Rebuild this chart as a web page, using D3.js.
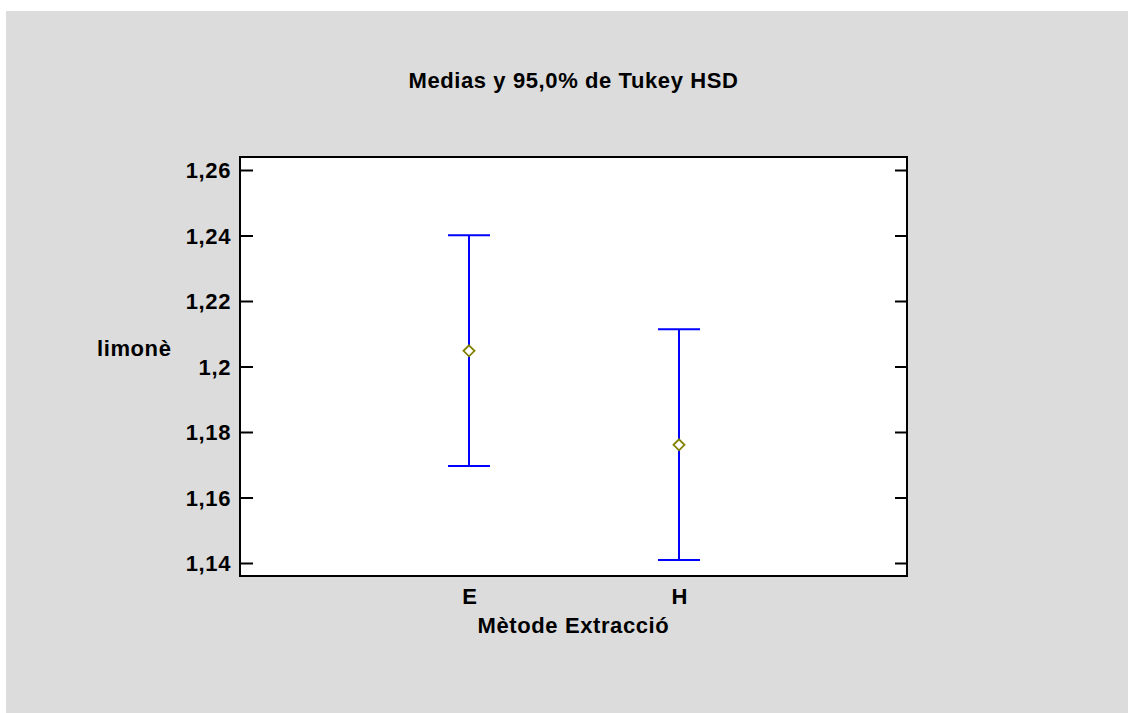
<!DOCTYPE html>
<html>
<head>
<meta charset="utf-8">
<script src="https://cdn.jsdelivr.net/npm/d3@7"></script>
<style>
  html, body { margin: 0; padding: 0; background: #ffffff; }
  svg { display: block; }
  text { font-family: "Liberation Sans", Arial, sans-serif; font-weight: bold; fill: #000; }
</style>
</head>
<body>
<svg id="chart" width="1128" height="713"></svg>
<script>
// ---- data ----
const categories = ["E", "H"];
const means = [1.2048, 1.1761];
const lowerLimits = [1.1696, 1.1409];
const upperLimits = [1.2401, 1.2114];
const yTickValues = [1.14, 1.16, 1.18, 1.20, 1.22, 1.24, 1.26];
const yTickLabels = ["1,14", "1,16", "1,18", "1,2", "1,22", "1,24", "1,26"];
const titleText = "Medias y 95,0% de Tukey HSD";
const xAxisTitle = "Mètode Extracció";
const yAxisTitle = "limonè";

// ---- layout ----
const W = 1128, H = 713;
const plot = { left: 240, right: 907, top: 157, bottom: 576 };
const svg = d3.select("#chart");

svg.append("rect").attr("x", 6).attr("y", 11).attr("width", W - 6).attr("height", H - 11)
  .attr("fill", "#dcdcdc");

svg.append("rect").attr("x", plot.left).attr("y", plot.top)
  .attr("width", plot.right - plot.left).attr("height", plot.bottom - plot.top)
  .attr("fill", "#ffffff");

const y = d3.scaleLinear().domain([1.13603, 1.26397]).range([plot.bottom, plot.top]);
const x = d3.scaleLinear().domain([-1.0905, 2.0857]).range([plot.left, plot.right]);

// left axis
const yLeft = d3.axisLeft(y).tickValues(yTickValues).tickSize(-13).tickPadding(9)
  .tickFormat((d, i) => yTickLabels[i]);
const gl = svg.append("g").attr("transform", `translate(${plot.left},0)`).call(yLeft);
gl.select(".domain").remove();
gl.selectAll(".tick line").attr("stroke", "#000").attr("stroke-width", 2);
gl.selectAll(".tick text").attr("font-size", 22).style("letter-spacing", "0.6px")
  .attr("font-family", "Liberation Sans, Arial, sans-serif").attr("font-weight", "bold")
  .attr("fill", "#000").attr("dy", "0.36em");

// right axis (ticks only)
const yRight = d3.axisRight(y).tickValues(yTickValues).tickSize(-12).tickFormat("");
const gr = svg.append("g").attr("transform", `translate(${plot.right},0)`).call(yRight);
gr.select(".domain").remove();
gr.selectAll(".tick line").attr("stroke", "#000").attr("stroke-width", 2);

// x axis labels
const xAxis = d3.axisBottom(x).tickValues(categories.map((c, i) => i)).tickSize(0).tickPadding(12)
  .tickFormat((d) => categories[d]);
const gx = svg.append("g").attr("transform", `translate(0,${plot.bottom})`).call(xAxis);
gx.select(".domain").remove();
gx.selectAll(".tick text").attr("font-size", 22).attr("font-family", "Liberation Sans, Arial, sans-serif")
  .attr("font-weight", "bold").attr("fill", "#000");

// frame
svg.append("rect").attr("x", plot.left).attr("y", plot.top)
  .attr("width", plot.right - plot.left).attr("height", plot.bottom - plot.top)
  .attr("fill", "none").attr("stroke", "#000").attr("stroke-width", 2);

// error bars
const capHalf = 21;
const bars = svg.append("g");
categories.forEach((c, i) => {
  const cx = x(i);
  bars.append("line").attr("x1", cx).attr("x2", cx)
    .attr("y1", y(lowerLimits[i])).attr("y2", y(upperLimits[i]))
    .attr("stroke", "#0000ff").attr("stroke-width", 2);
  [lowerLimits[i], upperLimits[i]].forEach(v => {
    bars.append("line").attr("x1", cx - capHalf).attr("x2", cx + capHalf)
      .attr("y1", y(v)).attr("y2", y(v))
      .attr("stroke", "#0000ff").attr("stroke-width", 2);
  });
});

// mean markers (diamonds)
svg.append("g").selectAll("path").data(means).join("path")
  .attr("d", (d, i) => {
    const cx = x(i), cy = y(d), r = 5.5;
    return `M${cx},${cy - r}L${cx + r},${cy}L${cx},${cy + r}L${cx - r},${cy}Z`;
  })
  .attr("fill", "#ffffff").attr("stroke", "#808000").attr("stroke-width", 1.8);

// titles
const midX = (plot.left + plot.right) / 2;
svg.append("text").attr("x", midX).attr("y", 88).attr("text-anchor", "middle")
  .attr("font-size", 22).style("letter-spacing", "0.6px").text(titleText);
svg.append("text").attr("x", midX).attr("y", 633).attr("text-anchor", "middle")
  .attr("font-size", 22).style("letter-spacing", "0.6px").text(xAxisTitle);
svg.append("text").attr("x", 97).attr("y", 356).attr("text-anchor", "start")
  .attr("font-size", 22).style("letter-spacing", "0.6px").text(yAxisTitle);
</script>
</body>
</html>
